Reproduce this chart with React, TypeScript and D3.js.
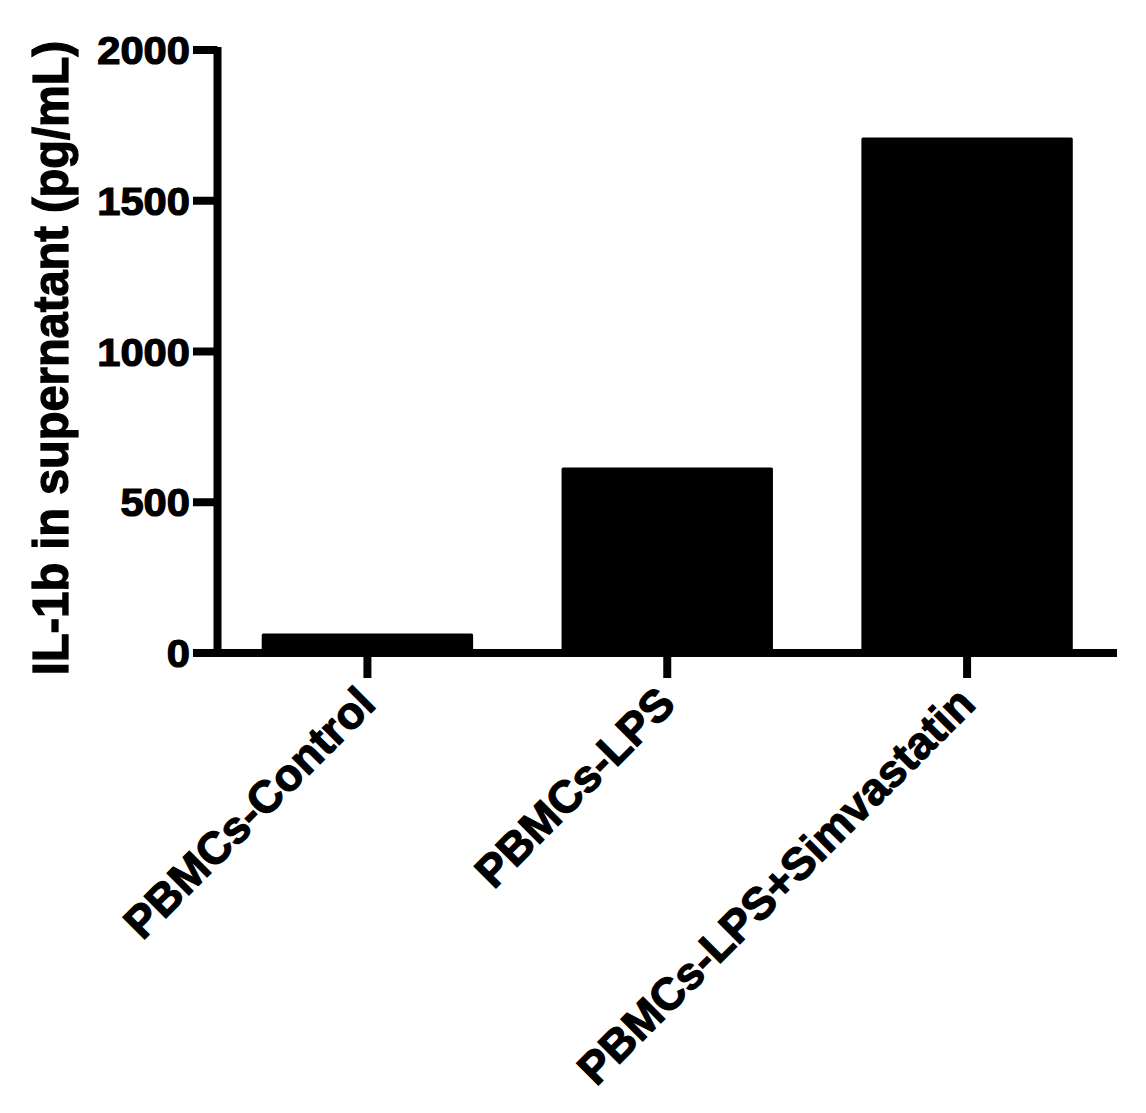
import React, { useEffect, useRef } from 'react';
import * as d3 from 'd3';

const categories = ['PBMCs-Control', 'PBMCs-LPS', 'PBMCs-LPS+Simvastatin'];
const values = [60, 610, 1705];
const yTicks = [0, 500, 1000, 1500, 2000];
const yTitle = 'IL-1b in supernatant (pg/mL)';

const W = 1146;
const H = 1113;

export default function App() {
  const svgRef = useRef<SVGSVGElement>(null);

  useEffect(() => {
    if (!svgRef.current) return;
    const svg = d3.select(svgRef.current);
    svg.selectAll('*').remove();

    const font = '"Liberation Sans", Arial, Helvetica, sans-serif';
    const axisX = 217.5;
    const axisRight = 1117;

    const x = d3.scaleBand<string>().domain(categories).range([axisX, axisRight]).padding(0);
    const y = d3.scaleLinear().domain([0, 2000]).range([653, 50]);
    const barW = x.bandwidth() * 0.695;

    // bars
    svg.append('g')
      .selectAll('rect')
      .data(values)
      .enter()
      .append('rect')
      .attr('x', (d, i) => (x(categories[i]) as number) + x.bandwidth() / 2 - barW / 2)
      .attr('y', d => y(d))
      .attr('width', barW)
      .attr('height', d => y(0) - y(d))
      .attr('fill', '#000')
      .attr('stroke', '#000')
      .attr('stroke-width', 3)
      .attr('stroke-linejoin', 'round');

    // y axis
    const axis = svg.append('g').attr('stroke', '#000').attr('stroke-width', 8).attr('fill', 'none');
    axis.append('line')
      .attr('x1', axisX).attr('x2', axisX)
      .attr('y1', y(2000) - 3).attr('y2', y(0) + 4);
    axis.selectAll('.ytick')
      .data(yTicks)
      .enter()
      .append('line')
      .attr('x1', 193).attr('x2', axisX)
      .attr('y1', d => y(d)).attr('y2', d => y(d));

    // x axis
    axis.append('line')
      .attr('x1', 193).attr('x2', axisRight)
      .attr('y1', y(0)).attr('y2', y(0));
    axis.selectAll('.xtick')
      .data(categories)
      .enter()
      .append('line')
      .attr('x1', d => (x(d) as number) + x.bandwidth() / 2)
      .attr('x2', d => (x(d) as number) + x.bandwidth() / 2)
      .attr('y1', y(0)).attr('y2', 678);

    // y tick labels
    svg.append('g')
      .selectAll('text')
      .data(yTicks)
      .enter()
      .append('text')
      .attr('transform', d => `translate(190, ${y(d)}) scale(1.07, 1)`)
      .attr('dy', '0.36em')
      .attr('text-anchor', 'end')
      .attr('font-family', font)
      .attr('font-weight', 'bold')
      .attr('font-size', 39)
      .attr('fill', '#000')
      .attr('stroke', '#000')
      .attr('stroke-width', 1.2)
      .text(d => String(d));

    // x tick labels
    svg.append('g')
      .selectAll('text')
      .data(categories)
      .enter()
      .append('text')
      .attr('transform', d => `translate(${(x(d) as number) + x.bandwidth() / 2 - 12}, 684) rotate(-45)`)
      .attr('dy', '0.7em')
      .attr('text-anchor', 'end')
      .attr('font-family', font)
      .attr('font-weight', 'bold')
      .attr('font-size', 45)
      .attr('fill', '#000')
      .attr('stroke', '#000')
      .attr('stroke-width', 1.2)
      .text(d => d);

    // y title
    svg.append('text')
      .attr('transform', `translate(68, 358) scale(1.07, 1) rotate(-90)`)
      .attr('text-anchor', 'middle')
      .attr('font-family', font)
      .attr('font-weight', 'bold')
      .attr('font-size', 47)
      .attr('fill', '#000')
      .attr('stroke', '#000')
      .attr('stroke-width', 1.2)
      .text(yTitle);
  }, []);

  return (
    <div style={{ position: 'absolute', left: 0, top: 0, width: W, height: H, background: '#fff' }}>
      <svg ref={svgRef} width={W} height={H} style={{ display: 'block' }} />
    </div>
  );
}
